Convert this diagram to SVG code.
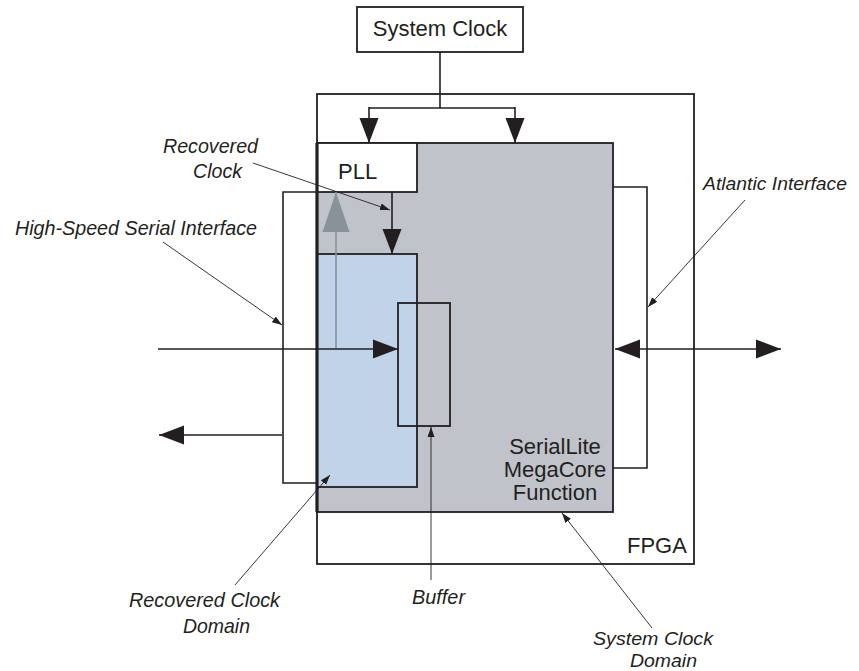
<svg xmlns="http://www.w3.org/2000/svg" width="859" height="671" viewBox="0 0 859 671">
<style>
.box{stroke:#231f20;stroke-width:1.8;fill:none}
.ln{stroke:#231f20;stroke-width:1.6;fill:none}
.ann{stroke:#231f20;stroke-width:0.9;fill:none}
.t{font-family:"Liberation Sans",Arial,sans-serif;font-size:22px;fill:#231f20}
.i{font-family:"Liberation Sans",Arial,sans-serif;font-size:21px;font-style:italic;fill:#231f20}
.s{font-size:19px}
</style>
<defs>
<marker id="big" markerWidth="25" markerHeight="20" refX="25" refY="10" orient="auto-start-reverse" markerUnits="userSpaceOnUse"><path d="M0,0.5 L25,10 L0,19.5 z" fill="#231f20"/></marker>
<marker id="grey" markerWidth="40" markerHeight="28" refX="40" refY="14" orient="auto" markerUnits="userSpaceOnUse"><path d="M0,0.5 L40,14 L0,27.5 z" fill="#8a9299"/></marker>
<marker id="sm" markerWidth="10" markerHeight="8" refX="10" refY="4" orient="auto" markerUnits="userSpaceOnUse"><path d="M0,0.5 L10,4 L0,7.5 z" fill="#231f20"/></marker>
</defs>
<rect width="859" height="671" fill="#ffffff"/>

<g id="fpga">
<rect x="317" y="94" width="377" height="470" class="box" fill="#fff"/>
<text x="627" y="553" class="t">FPGA</text>
</g>

<g id="seriallite">
<rect x="317" y="143" width="296" height="369" fill="#c0c3ca" stroke="#231f20" stroke-width="1.8"/>
<text class="t" text-anchor="middle"><tspan x="555" y="454">SerialLite</tspan><tspan x="555" y="477">MegaCore</tspan><tspan x="555" y="500">Function</tspan></text>
</g>

<g id="recovered-domain">
<rect x="317" y="254" width="100" height="233" fill="#c0d3e8" stroke="#231f20" stroke-width="1.8"/>
</g>

<g id="pll">
<rect x="317" y="143" width="100" height="49" fill="#ffffff" stroke="#231f20" stroke-width="1.8"/>
<text x="338" y="179" class="t">PLL</text>
</g>

<g id="buffer">
<rect x="398" y="303" width="52" height="123" class="box"/>
</g>

<g id="system-clock">
<rect x="357" y="7" width="166" height="45" class="box" fill="#fff"/>
<text x="440" y="36" class="t" text-anchor="middle">System Clock</text>
</g>

<g id="connectors">
<line x1="317" y1="143" x2="317" y2="512" stroke="#231f20" stroke-width="3.2"/>
<path class="ln" d="M440,52 V108 M369,108 H515"/>
<path class="ln" d="M369,107 V143" marker-end="url(#big)"/>
<path class="ln" d="M515,107 V143" marker-end="url(#big)"/>
<path class="ln" d="M392,192 V254" marker-end="url(#big)"/>
<path d="M336,349 V192" stroke="#8a9299" stroke-width="1.6" fill="none" marker-end="url(#grey)"/>
<path class="ln" d="M158,349 H398" marker-end="url(#big)"/>
<path class="ln" d="M282,435 H159" marker-end="url(#big)"/>
<path class="ln" d="M317,192 H283 V483 H317"/>
<path class="ln" d="M613,187 H647 V468 H613"/>
<path class="ln" d="M615,349 H781" marker-start="url(#big)" marker-end="url(#big)"/>
<path class="ann" d="M253,163 L390,210" marker-end="url(#sm)"/>
<path class="ann" d="M163,242 L282,325" marker-end="url(#sm)"/>
<path class="ann" d="M745,200 L648,307" marker-end="url(#sm)"/>
<path class="ann" d="M235,585 L330,475" marker-end="url(#sm)"/>
<path class="ann" d="M431,580 V427" marker-end="url(#sm)"/>
<path class="ann" d="M652,628 L562,513" marker-end="url(#sm)"/>
</g>

<g id="labels">
<text x="163" y="153" class="i" textLength="95" lengthAdjust="spacingAndGlyphs">Recovered</text>
<text x="193" y="178" class="i" textLength="49" lengthAdjust="spacingAndGlyphs">Clock</text>
<text x="15" y="235" class="i" textLength="242" lengthAdjust="spacingAndGlyphs">High-Speed Serial Interface</text>
<text x="703" y="190" class="i s" textLength="144" lengthAdjust="spacingAndGlyphs">Atlantic Interface</text>
<text x="129" y="607" class="i" textLength="151" lengthAdjust="spacingAndGlyphs">Recovered Clock</text>
<text x="183" y="633" class="i" textLength="67" lengthAdjust="spacingAndGlyphs">Domain</text>
<text x="412" y="604" class="i" textLength="53" lengthAdjust="spacingAndGlyphs">Buffer</text>
<text x="593" y="645" class="i s" textLength="120" lengthAdjust="spacingAndGlyphs">System Clock</text>
<text x="630" y="667" class="i s" textLength="67" lengthAdjust="spacingAndGlyphs">Domain</text>
</g>
</svg>
